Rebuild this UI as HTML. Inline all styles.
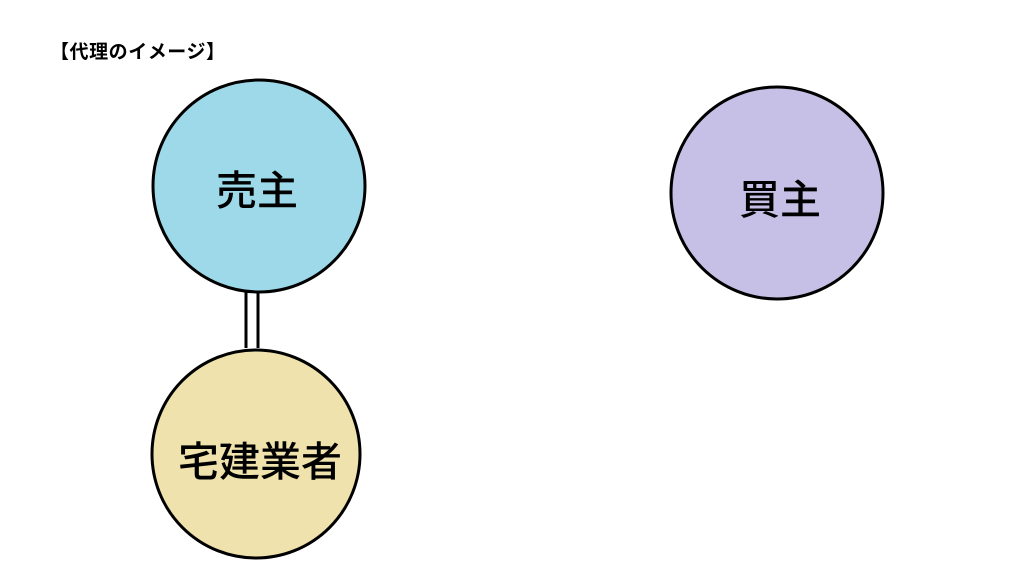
<!DOCTYPE html>
<html><head><meta charset="utf-8"><style>
body{margin:0;width:1024px;height:576px;background:#fff;overflow:hidden}
</style></head><body>
<svg width="1024" height="576" xmlns="http://www.w3.org/2000/svg" style="position:absolute;left:0;top:0">
<text x="50" y="58" font-family="'Liberation Sans','Noto Sans CJK JP',sans-serif" font-size="19" font-weight="bold" fill="#000" textLength="175">【代理のイメージ】</text>
<line x1="246" y1="292" x2="246" y2="348" stroke="#000" stroke-width="3"/>
<line x1="258" y1="292" x2="258" y2="348" stroke="#000" stroke-width="3"/>
<circle cx="259" cy="186" r="106" fill="#9dd9e9" stroke="#000" stroke-width="3"/>
<circle cx="777" cy="193" r="106" fill="#c7c0e6" stroke="#000" stroke-width="3"/>
<circle cx="256" cy="454" r="104" fill="#efe2ac" stroke="#000" stroke-width="3"/>
<g font-family="'Noto Sans CJK JP',sans-serif" font-size="41" font-weight="500" fill="#000" text-anchor="middle">
<text x="257" y="205">売主</text>
<text x="780" y="214">買主</text>
<text x="260" y="476">宅建業者</text>
</g>
</svg>
</body></html>
